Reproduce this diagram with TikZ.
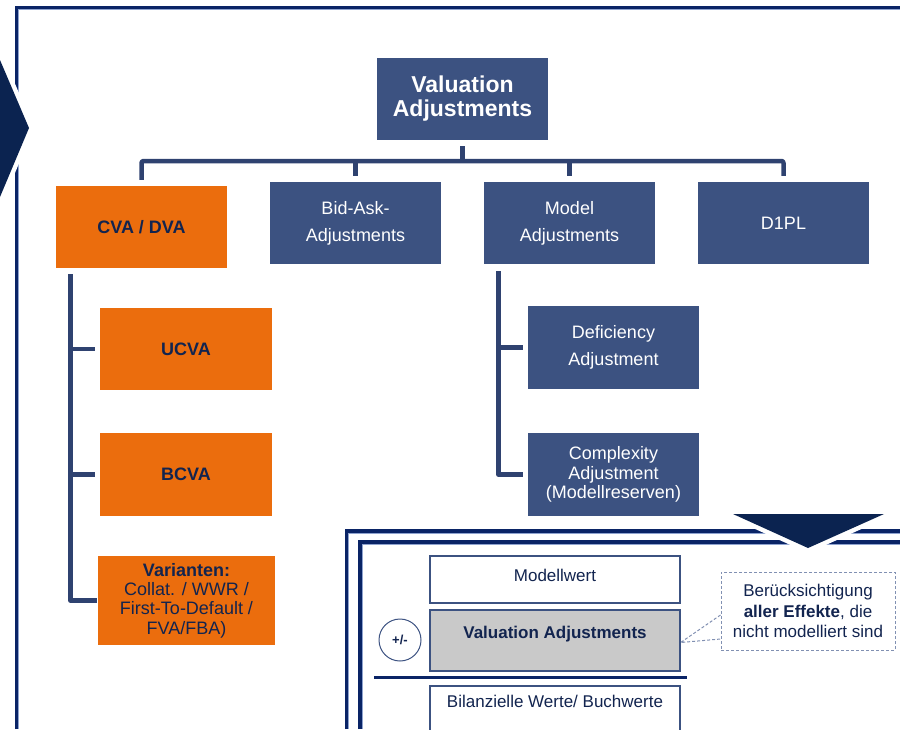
\documentclass[tikz,border=0pt]{standalone}
\usepackage{fontspec}
\setmainfont{Liberation Sans}
\usetikzlibrary{calc}

\definecolor{navy}{HTML}{0B2350}
\definecolor{framenavy}{HTML}{0A2466}
\definecolor{framelight}{HTML}{8FA3CF}
\definecolor{boxblue}{HTML}{3C5281}
\definecolor{connblue}{HTML}{2F4270}
\definecolor{vaorange}{HTML}{EB6D0D}
\definecolor{txtnavy}{HTML}{12244F}
\definecolor{panelgrey}{HTML}{C9C9C9}
\definecolor{dashgrey}{HTML}{8190B2}

\tikzset{
  bluebox/.style={rectangle, fill=boxblue, text=white, inner sep=0pt, align=center,
    minimum width=171pt, minimum height=82pt},
  orangebox/.style={rectangle, fill=vaorange, text=txtnavy, inner sep=0pt, align=center,
    minimum width=172pt, minimum height=82pt},
  panelbox/.style={rectangle, draw=boxblue, line width=1.3pt, text=txtnavy, inner sep=0pt,
    align=center, minimum width=250pt, text height=12pt},
  conn/.style={draw=connblue, line width=4.5pt, line join=round},
  navyline/.style={draw=framenavy, line width=3.5pt},
  lightline/.style={draw=framelight, line width=0.9pt},
  callline/.style={draw=dashgrey, line width=1pt, dash pattern=on 3pt off 2pt},
  halo/.style={draw=white, line width=9pt, line join=miter},
}

\begin{document}
\begin{tikzpicture}[x=1pt, y=-1pt]
\useasboundingbox (0,0) rectangle (900,729);
\clip (0,0) rectangle (900,729);

% outer frame
\draw[navyline] (16.3,729) -- (16.3,7.3) -- (900,7.3);
\draw[lightline] (18.5,729) -- (18.5,9.5) -- (900,9.5);

% lower panel frames
\draw[navyline] (346.5,729) -- (346.5,531) -- (900,531);
\draw[lightline] (348.7,729) -- (348.7,533.2) -- (900,533.2);
\draw[navyline] (360,729) -- (360,542) -- (900,542);
\draw[lightline] (362.2,729) -- (362.2,544.2) -- (900,544.2);

% chevron on the left, cut out of the frame by a white halo
\draw[halo] (-20,60) -- (0,60) -- (29,128) -- (0,197) -- (-20,197) -- cycle;
\fill[navy] (-20,60) -- (0,60) -- (29,128) -- (0,197) -- (-20,197) -- cycle;

% downward arrow head over the panel frames
\draw[halo] (733,514) -- (884,514) -- (808,548) -- cycle;
\fill[navy] (733,514) -- (884,514) -- (808,548) -- cycle;

% hierarchy nodes
\node[bluebox, minimum width=171pt, minimum height=82pt,
  font=\bfseries\fontsize{23}{24}\selectfont] (va) at (462.5,99) {Valuation\\Adjustments};

\node[orangebox, minimum width=171pt, font=\bfseries\fontsize{18}{22}\selectfont]
  (cva) at (141.5,227) {CVA / DVA};
\node[bluebox, font=\fontsize{18}{27}\selectfont] (bid) at (355.5,223) {Bid-Ask-\\Adjustments};
\node[bluebox, font=\fontsize{18}{27}\selectfont] (model) at (569.5,223) {Model\\Adjustments};
\node[bluebox, font=\fontsize{18}{22}\selectfont] (d1pl) at (783.5,223) {D1PL};

\node[orangebox, font=\bfseries\fontsize{18}{22}\selectfont] (ucva) at (186,349) {UCVA};
\node[orangebox, minimum height=83pt, font=\bfseries\fontsize{18}{22}\selectfont]
  (bcva) at (186,474.5) {BCVA};
\node[orangebox, minimum width=177pt, minimum height=89pt,
  font=\fontsize{18}{19.3}\selectfont] (var) at (186.5,600.5)
  {\textbf{Varianten:}\\Collat. / WWR /\\First-To-Default /\\FVA/FBA)};

\node[bluebox, minimum height=83pt, font=\fontsize{18}{27}\selectfont]
  (defi) at (613.5,347.5) {Deficiency\\Adjustment};
\node[bluebox, minimum height=83pt, font=\fontsize{18}{19.5}\selectfont]
  (compl) at (613.5,474.5) {Complexity\\Adjustment\\(Modellreserven)};

% connectors of the top level
\coordinate (bus) at (0,161);
\draw[conn] ($(va.south)+(0,6)$) -- (va.south |- bus);
\draw[conn, rounded corners=2pt] ($(cva.north)+(0,-6)$) |- (bus -| va.south) -| ($(d1pl.north)+(0,-6)$);
\draw[conn] ($(bid.north)+(0,-6)$) -- (bid.north |- bus);
\draw[conn] ($(model.north)+(0,-6)$) -- (model.north |- bus);

% CVA subtree
\coordinate (cvatrunk) at (70.5,0);
\draw[conn] ($(cva.south -| cvatrunk)+(0,6)$) |- ($(var.west)+(-1,0)$);
\draw[conn] (ucva.west -| cvatrunk) -- ($(ucva.west)+(-5,0)$);
\draw[conn] (bcva.west -| cvatrunk) -- ($(bcva.west)+(-5,0)$);

% Model subtree
\coordinate (modtrunk) at (498.5,0);
\draw[conn] ($(model.south -| modtrunk)+(0,7)$) |- ($(compl.west)+(-5,0)$);
\draw[conn] (defi.west -| modtrunk) -- ($(defi.west)+(-5,0)$);

% lower panel
\node[panelbox, minimum height=47pt, fill=white, text depth=9pt,
  font=\fontsize{17}{20}\selectfont] (mw) at (555,579.5) {Modellwert};
\node[panelbox, minimum height=61pt, fill=panelgrey, text depth=17pt,
  font=\bfseries\fontsize{17}{20}\selectfont] (vab) at (555,640.5) {Valuation Adjustments};
\node[panelbox, minimum height=60pt, fill=white, text depth=30pt,
  font=\fontsize{17}{20}\selectfont] (bil) at (555,716) {Bilanzielle Werte/ Buchwerte};

\node[circle, draw=boxblue, line width=1pt, minimum size=42pt, inner sep=0pt,
  text=txtnavy, font=\bfseries\fontsize{13}{14}\selectfont] (pm) at (400,640) {+/-};

\coordinate (seplL) at (374,677.5);
\coordinate (seplR) at (687,677.5);
\draw[navyline] (seplL) -- (seplR);

\node[rectangle, draw=dashgrey, line width=1pt, dash pattern=on 3pt off 2pt,
  minimum width=174pt, minimum height=78pt, inner sep=0pt, align=center,
  text=txtnavy, font=\fontsize{17}{20.5}\selectfont] (callout) at (808,611)
  {Berücksichtigung\\\textbf{aller Effekte}, die\\nicht modelliert sind};

\draw[callline] ($(callout.west)+(0,4)$) -- ([yshift=-2pt]vab.east) -- ($(callout.west)+(0,28)$);
\end{tikzpicture}
\end{document}
